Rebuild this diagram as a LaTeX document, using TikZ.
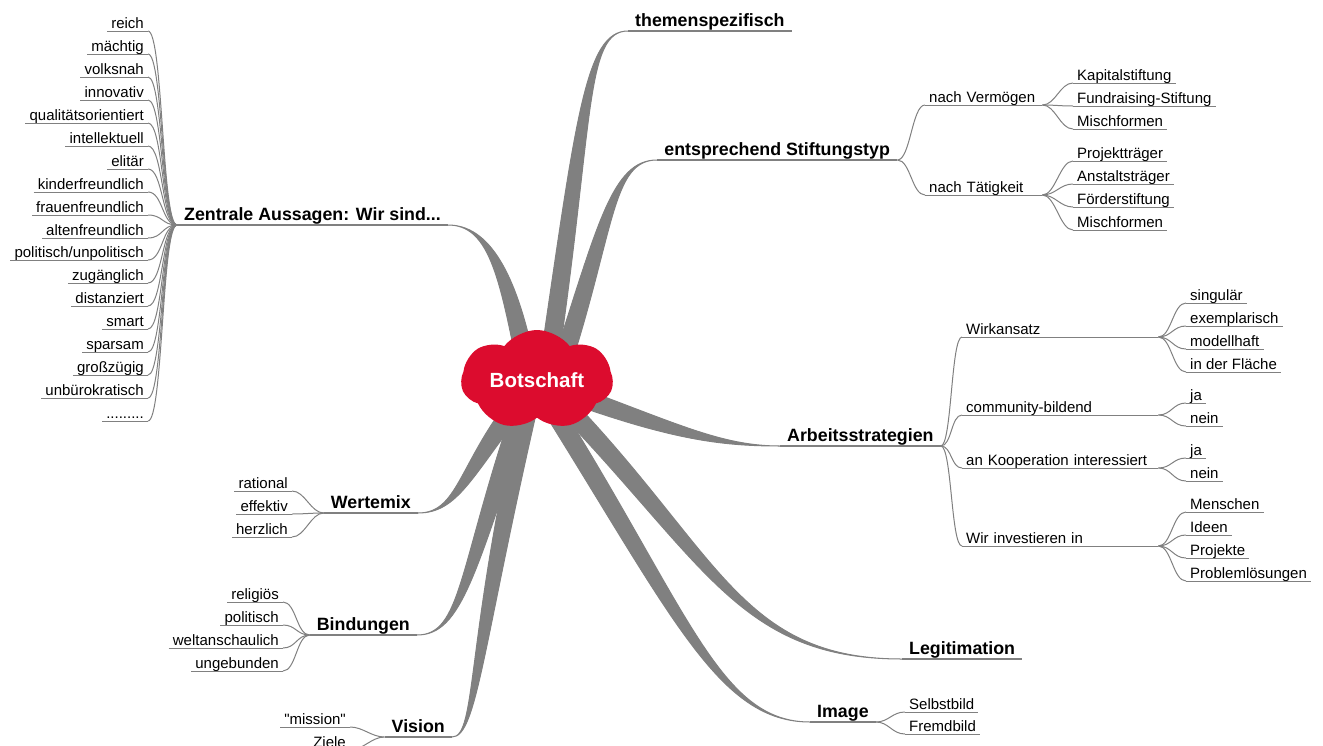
\documentclass[tikz,border=0pt]{standalone}
\usepackage{fontspec}
\setmainfont{Liberation Sans}
\newfontfamily\plainquotes{Liberation Sans}[Ligatures=TeXOff]
\usepackage{tikz}
\usetikzlibrary{shapes,backgrounds,calc}

\definecolor{linegray}{RGB}{128,128,128}
\definecolor{botred}{RGB}{220,12,46}

% tapered branch out of the cloud C: offset, out angle, out distance, end, in angle, in distance
\newcommand{\mainbranch}[6]{%
    \fill[stem] ($(C)+(#1)+(#2+90:9)$) to[out=#2, in=#5, out distance=#3, in distance=#6] (#4)
        to[out=#5, in=#2, out distance=#6, in distance=#3] ($(C)+(#1)+(#2-90:9)$) -- cycle;
}

\begin{document}
\begin{tikzpicture}[
        x=1pt, y=1pt,
        leaf/.style={font=\fontsize{15}{18}\selectfont, inner xsep=4pt, inner ysep=0pt,
            text height=11pt, text depth=2.5pt,
            append after command={(\tikzlastnode.south west) edge[draw=linegray, line width=1pt] (\tikzlastnode.south east)}},
        main/.style={font=\bfseries\fontsize{17.8}{21}\selectfont, inner xsep=7pt, inner ysep=0pt,
            text height=13pt, text depth=4pt,
            append after command={(\tikzlastnode.south west) edge[draw=linegray, line width=2pt] (\tikzlastnode.south east)}},
        rightside/.style={anchor=south west},
        leftside/.style={anchor=south east},
        twig/.style={draw=linegray, line width=1pt, out distance=#1, in distance=#1},
        twig/.default=13pt,
        stem/.style={fill=linegray, draw=linegray, line width=1pt, line join=round},
    ]
        \useasboundingbox (0,0) rectangle (1323,-745);
        \clip (0,0) rectangle (1323,-745);

        % Centre
        \node[cloud, cloud puffs=7, cloud puff arc=105, cloud ignores aspect,
            minimum width=152pt, minimum height=100pt, inner sep=0pt, fill=botred,
            text=white, font=\bfseries\fontsize{20.5}{24}\selectfont] (C) at (537,-380) {Botschaft};

        % Main topics
        \node[main, rightside] (T) at (628,-31) {themenspezifisch};
        \node[main, rightside, minimum width=240pt] (S) at (657,-160) {entsprechend Stiftungstyp};
        \node[main, rightside] (A) at (780,-446) {Arbeitsstrategien};
        \node[main, rightside] (L) at (902,-659) {Legitimation};
        \node[main, rightside] (I) at (810,-722) {Image};
        \node[main, leftside] (Z) at (448,-225) {Zentrale Aussagen: Wir sind...};
        \node[main, leftside] (W) at (418,-513) {Wertemix};
        \node[main, leftside] (B) at (417,-635) {Bindungen};
        \node[main, leftside] (V) at (452,-737) {Vision};

        % Stiftungstyp
        \node[leaf, rightside, text width=109pt] (S1) at (925,-105) {nach Vermögen};
        \node[leaf, rightside, text width=109pt] (S2) at (925,-195) {nach Tätigkeit};
        \node[leaf, rightside] (S11) at (1073,-83) {Kapitalstiftung};
        \node[leaf, rightside] (S12) at (1073,-106) {Fundraising-Stiftung};
        \node[leaf, rightside] (S13) at (1073,-129) {Mischformen};
        \node[leaf, rightside] (S21) at (1073,-161) {Projektträger};
        \node[leaf, rightside] (S22) at (1073,-184) {Anstaltsträger};
        \node[leaf, rightside] (S23) at (1073,-207) {Förderstiftung};
        \node[leaf, rightside] (S24) at (1073,-230) {Mischformen};

        \draw[twig] (S.south east) to[out=0, in=180] (S1.south west);
        \draw[twig] (S.south east) to[out=0, in=180] (S2.south west);
        \draw[twig] (S1.south east) to[out=0, in=180] (S11.south west);
        \draw[twig] (S1.south east) to[out=0, in=180] (S12.south west);
        \draw[twig] (S1.south east) to[out=0, in=180] (S13.south west);
        \draw[twig] (S2.south east) to[out=0, in=180] (S21.south west);
        \draw[twig] (S2.south east) to[out=0, in=180] (S22.south west);
        \draw[twig] (S2.south east) to[out=0, in=180] (S23.south west);
        \draw[twig] (S2.south east) to[out=0, in=180] (S24.south west);

        % Arbeitsstrategien
        \node[leaf, rightside, text width=188pt] (A1) at (962,-337) {Wirkansatz};
        \node[leaf, rightside, text width=188pt] (A2) at (962,-415) {community-bildend};
        \node[leaf, rightside, text width=188pt] (A3) at (962,-468) {an Kooperation interessiert};
        \node[leaf, rightside, text width=188pt] (A4) at (962,-546) {Wir investieren in};
        \node[leaf, rightside] (A11) at (1186,-303) {singulär};
        \node[leaf, rightside] (A12) at (1186,-326) {exemplarisch};
        \node[leaf, rightside] (A13) at (1186,-349) {modellhaft};
        \node[leaf, rightside] (A14) at (1186,-372) {in der Fläche};
        \node[leaf, rightside] (A21) at (1186,-403) {ja};
        \node[leaf, rightside] (A22) at (1186,-426) {nein};
        \node[leaf, rightside] (A31) at (1186,-458) {ja};
        \node[leaf, rightside] (A32) at (1186,-481) {nein};
        \node[leaf, rightside] (A41) at (1186,-512) {Menschen};
        \node[leaf, rightside] (A42) at (1186,-535) {Ideen};
        \node[leaf, rightside] (A43) at (1186,-558) {Projekte};
        \node[leaf, rightside] (A44) at (1186,-581) {Problemlösungen};

        \draw[twig=11pt] (A.south east) to[out=0, in=180] (A1.south west);
        \draw[twig=11pt] (A.south east) to[out=0, in=180] (A2.south west);
        \draw[twig=11pt] (A.south east) to[out=0, in=180] (A3.south west);
        \draw[twig=11pt] (A.south east) to[out=0, in=180] (A4.south west);
        \draw[twig] (A1.south east) to[out=0, in=180] (A11.south west);
        \draw[twig] (A1.south east) to[out=0, in=180] (A12.south west);
        \draw[twig] (A1.south east) to[out=0, in=180] (A13.south west);
        \draw[twig] (A1.south east) to[out=0, in=180] (A14.south west);
        \draw[twig] (A2.south east) to[out=0, in=180] (A21.south west);
        \draw[twig] (A2.south east) to[out=0, in=180] (A22.south west);
        \draw[twig] (A3.south east) to[out=0, in=180] (A31.south west);
        \draw[twig] (A3.south east) to[out=0, in=180] (A32.south west);
        \draw[twig] (A4.south east) to[out=0, in=180] (A41.south west);
        \draw[twig] (A4.south east) to[out=0, in=180] (A42.south west);
        \draw[twig] (A4.south east) to[out=0, in=180] (A43.south west);
        \draw[twig] (A4.south east) to[out=0, in=180] (A44.south west);

        % Image
        \node[leaf, rightside] (I1) at (905,-712) {Selbstbild};
        \node[leaf, rightside] (I2) at (905,-734) {Fremdbild};
        \draw[twig] (I.south east) to[out=0, in=180] (I1.south west);
        \draw[twig] (I.south east) to[out=0, in=180] (I2.south west);

        % Zentrale Aussagen
        \node[leaf, leftside] (Z1) at (148,-31) {reich};
        \node[leaf, leftside] (Z2) at (148,-54) {mächtig};
        \node[leaf, leftside] (Z3) at (148,-77) {volksnah};
        \node[leaf, leftside] (Z4) at (148,-100) {innovativ};
        \node[leaf, leftside] (Z5) at (148,-123) {qualitätsorientiert};
        \node[leaf, leftside] (Z6) at (148,-146) {intellektuell};
        \node[leaf, leftside] (Z7) at (148,-169) {elitär};
        \node[leaf, leftside] (Z8) at (148,-192) {kinderfreundlich};
        \node[leaf, leftside] (Z9) at (148,-215) {frauenfreundlich};
        \node[leaf, leftside] (Z10) at (148,-238) {altenfreundlich};
        \node[leaf, leftside] (Z11) at (148,-260) {politisch/unpolitisch};
        \node[leaf, leftside] (Z12) at (148,-283) {zugänglich};
        \node[leaf, leftside] (Z13) at (148,-306) {distanziert};
        \node[leaf, leftside] (Z14) at (148,-329) {smart};
        \node[leaf, leftside] (Z15) at (148,-352) {sparsam};
        \node[leaf, leftside] (Z16) at (148,-375) {großzügig};
        \node[leaf, leftside] (Z17) at (148,-398) {unbürokratisch};
        \node[leaf, leftside] (Z18) at (148,-421) {.........};

        \draw[twig=15pt] (Z.south west) to[out=180, in=0] (Z1.south east);
        \draw[twig=15pt] (Z.south west) to[out=180, in=0] (Z2.south east);
        \draw[twig=15pt] (Z.south west) to[out=180, in=0] (Z3.south east);
        \draw[twig=15pt] (Z.south west) to[out=180, in=0] (Z4.south east);
        \draw[twig=15pt] (Z.south west) to[out=180, in=0] (Z5.south east);
        \draw[twig=15pt] (Z.south west) to[out=180, in=0] (Z6.south east);
        \draw[twig=15pt] (Z.south west) to[out=180, in=0] (Z7.south east);
        \draw[twig=15pt] (Z.south west) to[out=180, in=0] (Z8.south east);
        \draw[twig=15pt] (Z.south west) to[out=180, in=0] (Z9.south east);
        \draw[twig=15pt] (Z.south west) to[out=180, in=0] (Z10.south east);
        \draw[twig=15pt] (Z.south west) to[out=180, in=0] (Z11.south east);
        \draw[twig=15pt] (Z.south west) to[out=180, in=0] (Z12.south east);
        \draw[twig=15pt] (Z.south west) to[out=180, in=0] (Z13.south east);
        \draw[twig=15pt] (Z.south west) to[out=180, in=0] (Z14.south east);
        \draw[twig=15pt] (Z.south west) to[out=180, in=0] (Z15.south east);
        \draw[twig=15pt] (Z.south west) to[out=180, in=0] (Z16.south east);
        \draw[twig=15pt] (Z.south west) to[out=180, in=0] (Z17.south east);
        \draw[twig=15pt] (Z.south west) to[out=180, in=0] (Z18.south east);

        % Wertemix
        \node[leaf, leftside] (W1) at (292,-491) {rational};
        \node[leaf, leftside] (W2) at (292,-514) {effektiv};
        \node[leaf, leftside] (W3) at (292,-537) {herzlich};
        \draw[twig] (W.south west) to[out=180, in=0] (W1.south east);
        \draw[twig] (W.south west) to[out=180, in=0] (W2.south east);
        \draw[twig] (W.south west) to[out=180, in=0] (W3.south east);

        % Bindungen
        \node[leaf, leftside] (B1) at (283,-602) {religiös};
        \node[leaf, leftside] (B2) at (283,-625) {politisch};
        \node[leaf, leftside] (B3) at (283,-648) {weltanschaulich};
        \node[leaf, leftside] (B4) at (283,-671) {ungebunden};
        \draw[twig] (B.south west) to[out=180, in=0] (B1.south east);
        \draw[twig] (B.south west) to[out=180, in=0] (B2.south east);
        \draw[twig] (B.south west) to[out=180, in=0] (B3.south east);
        \draw[twig] (B.south west) to[out=180, in=0] (B4.south east);

        % Vision
        \node[leaf, leftside] (V1) at (350,-727) {{\plainquotes "mission"}};
        \node[leaf, leftside] (V2) at (350,-750) {Ziele};
        \draw[twig] (V.south west) to[out=180, in=0] (V1.south east);
        \draw[twig] (V.south west) to[out=180, in=0] (V2.south east);

        % Thick branches behind the cloud
        \begin{scope}[on background layer]
            \mainbranch{11,10}{81.6}{253pt}{T.south west}{180}{43pt}
            \mainbranch{23,10}{72}{150pt}{S.south west}{180}{45pt}
            \mainbranch{-10,10}{101}{100pt}{Z.south east}{0}{40pt}
            \mainbranch{23,-10}{-20}{120pt}{A.south west}{180}{60pt}
            \mainbranch{23,-20}{-46}{220pt}{L.south west}{180}{162pt}
            \mainbranch{13,-25}{-58}{250pt}{I.south west}{180}{90pt}
            \mainbranch{-17,-20}{232}{90pt}{W.south east}{0}{40pt}
            \mainbranch{-12,-20}{251}{180pt}{B.south east}{0}{45pt}
            \mainbranch{-7,-20}{257}{250pt}{V.south east}{0}{25pt}
        \end{scope}

    \end{tikzpicture}
\end{document}
